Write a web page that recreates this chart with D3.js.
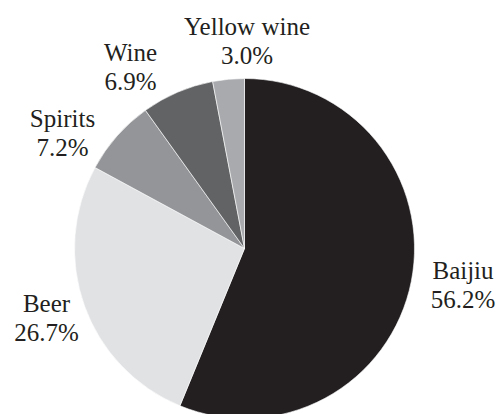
<!DOCTYPE html>
<html>
<head>
<meta charset="utf-8">
<script src="https://cdn.jsdelivr.net/npm/d3@7"></script>
<style>
  html, body { margin: 0; padding: 0; background: #fff; }
  svg { display: block; }
</style>
</head>
<body>
<script>
// Share of alcoholic beverage categories (%)
const categories = ["Baijiu", "Beer", "Spirits", "Wine", "Yellow wine"];
const shares = [56.2, 26.7, 7.2, 6.9, 3.0];
const shareLabels = ["56.2%", "26.7%", "7.2%", "6.9%", "3.0%"];
const sliceColors = ["#231f20", "#e1e2e4", "#939598", "#626365", "#a8aaad"];

const width = 498, height = 414;
const cx = 244.5, cy = 248.5, radius = 170;

// Label anchors (centre x, first baseline), relative to the pie centre
const labelLayout = {
  "Baijiu":      [218.5, 30],
  "Beer":        [-198, 63],
  "Spirits":     [-182, -122],
  "Wine":        [-114, -188],
  "Yellow wine": [2.5, -214]
};
const lineGap = 29;

const svg = d3.select("body").append("svg")
  .attr("width", width)
  .attr("height", height);

const data = categories.map((c, i) => ({ name: c, value: shares[i], label: shareLabels[i], color: sliceColors[i] }));

// Clockwise from 12 o'clock, in the given order
const pie = d3.pie().value(d => d.value).sort(null);
const arcs = pie(data);

const arc = d3.arc().innerRadius(0).outerRadius(radius);

const g = svg.append("g").attr("transform", `translate(${cx},${cy})`);

g.selectAll("path")
  .data(arcs)
  .join("path")
  .attr("d", arc)
  .attr("fill", d => d.data.color)
  .attr("stroke", "#ffffff")
  .attr("stroke-width", 0.6)
  .attr("stroke-linejoin", "round");

// Two-line labels outside each slice
const labels = g.selectAll("text.lbl")
  .data(arcs)
  .join("text")
  .attr("class", "lbl")
  .attr("text-anchor", "middle")
  .attr("font-family", "'Liberation Serif', 'Times New Roman', serif")
  .attr("font-size", 25)
  .attr("fill", "#231f20")
  .attr("transform", d => {
    const [x, y] = labelLayout[d.data.name];
    return `translate(${x},${y})`;
  });

labels.append("tspan")
  .attr("x", 0)
  .attr("y", 0)
  .text(d => d.data.name);

labels.append("tspan")
  .attr("x", 0)
  .attr("y", lineGap)
  .text(d => d.data.label);
</script>
</body>
</html>
